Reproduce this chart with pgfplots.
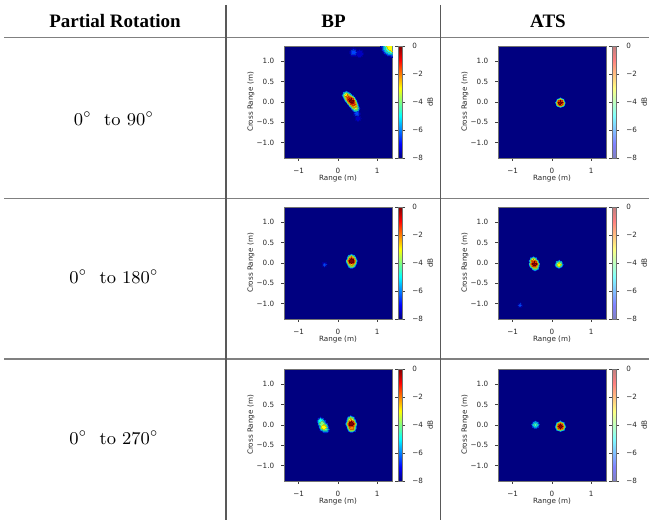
\documentclass[border=0pt]{standalone}
\usepackage{fontspec}
\usepackage{pgfplots}
\usepackage{pgfplotstable}
\pgfplotsset{compat=1.18}
\newfontfamily\hdr{Liberation Serif}
\newfontfamily\dejavu{DejaVu Sans}
\newcommand\pf{\dejavu\fontsize{3.6}{4.3}\selectfont}
\definecolor{navyjet}{RGB}{0,0,128}

\pgfplotstableread{
x y z r
0.21 0.17 -7.5 2.2
0.24 0.135 -7.5 2.35
0.27 0.10 -7.5 2.5
0.305 0.065 -7.5 2.6
0.34 0.03 -7.5 2.7
0.37 -0.015 -7.5 2.6
0.40 -0.06 -7.5 2.5
0.425 -0.105 -7.5 2.35
0.45 -0.15 -7.5 2.2
0.48 -0.28 -7.5 1.8
0.51 -0.40 -7.5 1.5
0.40 1.22 -7.5 2.2
0.55 1.19 -7.5 2.0
1.37 1.37 -7.5 5.5
0.21 0.17 -6.5 1.97
0.24 0.135 -6.5 2.15
0.27 0.10 -6.5 2.3
0.305 0.065 -6.5 2.42
0.34 0.03 -6.5 2.52
0.37 -0.015 -6.5 2.42
0.40 -0.06 -6.5 2.3
0.425 -0.105 -6.5 2.13
0.45 -0.15 -6.5 1.94
0.48 -0.28 -6.5 1.04
0.40 1.22 -6.5 1.27
1.37 1.37 -6.5 4.92
0.21 0.17 -5.5 1.71
0.24 0.135 -5.5 1.92
0.27 0.10 -5.5 2.08
0.305 0.065 -5.5 2.23
0.34 0.03 -5.5 2.34
0.37 -0.015 -5.5 2.23
0.40 -0.06 -5.5 2.08
0.425 -0.105 -5.5 1.88
0.45 -0.15 -5.5 1.64
1.37 1.37 -5.5 4.26
0.21 0.17 -4.5 1.39
0.24 0.135 -4.5 1.66
0.27 0.10 -4.5 1.84
0.305 0.065 -4.5 2.02
0.34 0.03 -4.5 2.14
0.37 -0.015 -4.5 2.02
0.40 -0.06 -4.5 1.84
0.425 -0.105 -4.5 1.58
0.45 -0.15 -4.5 1.27
1.37 1.37 -4.5 3.48
0.24 0.135 -3.5 1.36
0.27 0.10 -3.5 1.55
0.305 0.065 -3.5 1.78
0.34 0.03 -3.5 1.91
0.37 -0.015 -3.5 1.78
0.40 -0.06 -3.5 1.55
0.425 -0.105 -3.5 1.23
0.45 -0.15 -3.5 0.73
0.21 0.17 -3 0.98
1.37 1.37 -3 2.46
0.27 0.10 -2.5 1.2
0.305 0.065 -2.5 1.5
0.34 0.03 -2.5 1.65
0.37 -0.015 -2.5 1.5
0.40 -0.06 -2.5 1.2
0.425 -0.105 -2.5 0.71
0.24 0.135 -2 0.96
0.27 0.10 -1.5 0.69
0.305 0.065 -1.5 1.16
0.34 0.03 -1.5 1.35
0.37 -0.015 -1.5 1.16
0.40 -0.06 -1.5 0.69
0.305 0.065 -0.5 0.67
0.37 -0.015 -0.5 0.67
0.34 0.03 0 0.96
}\bpone

\pgfplotstableread{
x y z r
0.216 -0.016 -7.5 2.6
0.216 -0.016 -6.5 2.43
0.216 -0.016 -5.5 2.25
0.216 -0.016 -4.5 2.06
0.216 -0.016 -3.5 1.84
0.216 -0.016 -2.5 1.59
0.216 -0.016 -1.5 1.3
0.216 -0.016 0 0.92
}\atsone

\pgfplotstableread{
x y z r
0.348 0.05 -7.5 3.0
0.345 0.11 -7.5 2.4
0.35 -0.03 -7.5 2.3
-0.34 -0.04 -7.5 1.2
0.348 0.05 -6.5 2.81
0.345 0.11 -6.5 2.19
0.35 -0.03 -6.5 2.08
-0.34 -0.04 -6.5 0.69
0.348 0.05 -5.5 2.6
0.345 0.11 -5.5 1.96
0.35 -0.03 -5.5 1.84
0.348 0.05 -4.5 2.37
0.345 0.11 -4.5 1.7
0.35 -0.03 -4.5 1.55
0.348 0.05 -3.5 2.12
0.345 0.11 -3.5 1.38
0.35 -0.03 -3.5 1.2
0.348 0.05 -2.5 1.84
0.35 -0.03 -2.5 0.69
0.345 0.11 -2 0.98
0.348 0.05 -1.5 1.5
0.348 0.05 0 1.06
}\bptwo

\pgfplotstableread{
x y z r
-0.45 -0.02 -7.5 2.8
-0.47 0.05 -7.5 2.3
-0.43 -0.09 -7.5 2.2
0.18 -0.033 -7.5 2.2
-0.813 -1.036 -7.5 1.2
-0.45 -0.02 -6.5 2.62
-0.47 0.05 -6.5 2.1
-0.43 -0.09 -6.5 1.99
0.18 -0.033 -6.5 1.97
-0.813 -1.036 -6.5 0.69
-0.45 -0.02 -5.5 2.42
-0.47 0.05 -5.5 1.88
-0.43 -0.09 -5.5 1.76
0.18 -0.033 -5.5 1.71
-0.45 -0.02 -4.5 2.21
-0.47 0.05 -4.5 1.63
-0.43 -0.09 -4.5 1.48
0.18 -0.033 -4.5 1.39
-0.45 -0.02 -3.5 1.98
-0.47 0.05 -3.5 1.33
-0.43 -0.09 -3.5 1.15
0.18 -0.033 -3 0.98
-0.45 -0.02 -2.5 1.71
-0.43 -0.09 -2.5 0.66
-0.47 0.05 -2 0.94
-0.45 -0.02 -1.5 1.4
-0.45 -0.02 0 0.99
}\atstwo

\pgfplotstableread{
x y z r
-0.44 0.10 -7.5 2.0
-0.40 0.03 -7.5 2.4
-0.36 -0.05 -7.5 2.6
-0.32 -0.10 -7.5 2.2
0.34 0.03 -7.5 3.0
0.33 0.12 -7.5 2.4
0.35 -0.07 -7.5 2.5
-0.44 0.10 -6.5 1.63
-0.40 0.03 -6.5 2.08
-0.36 -0.05 -6.5 2.32
-0.32 -0.10 -6.5 1.86
0.34 0.03 -6.5 2.81
0.33 0.12 -6.5 2.17
0.35 -0.07 -6.5 2.28
-0.40 0.03 -5.5 1.7
-0.36 -0.05 -5.5 2.02
-0.32 -0.10 -5.5 1.44
0.34 0.03 -5.5 2.6
0.33 0.12 -5.5 1.92
0.35 -0.07 -5.5 2.04
-0.44 0.10 -5 1.15
-0.36 -0.05 -4.5 1.64
-0.32 -0.10 -4.5 0.83
0.34 0.03 -4.5 2.37
0.33 0.12 -4.5 1.62
0.35 -0.07 -4.5 1.77
-0.40 0.03 -4 1.2
0.34 0.03 -3.5 2.12
0.33 0.12 -3.5 1.25
0.35 -0.07 -3.5 1.44
-0.36 -0.05 -3 1.16
0.34 0.03 -2.5 1.84
0.33 0.12 -2.5 0.72
0.35 -0.07 -2 1.02
0.34 0.03 -1.5 1.5
0.34 0.03 0 1.06
}\bpthree

\pgfplotstableread{
x y z r
-0.42 0.008 -7.5 2.1
0.216 -0.03 -7.5 2.8
-0.42 0.008 -6.5 1.77
0.216 -0.03 -6.5 2.62
-0.42 0.008 -5.5 1.38
0.216 -0.03 -5.5 2.42
-0.42 0.008 -4.5 0.79
0.216 -0.03 -4.5 2.21
0.216 -0.03 -3.5 1.98
0.216 -0.03 -2.5 1.71
0.216 -0.03 -1.5 1.4
0.216 -0.03 0 0.99
}\atsthree

\pgfplotsset{
  colormap={jetpastel}{rgb255(0cm)=(128,128,192) rgb255(1cm)=(128,128,255) rgb255(3cm)=(128,255,255) rgb255(5cm)=(255,255,128) rgb255(7cm)=(255,128,128) rgb255(8cm)=(192,128,128)},
  heat/.style={
    scale only axis, width=54pt, height=56pt,
    at={#1}, anchor=south west,
    xmin=-1.375, xmax=1.375, ymin=-1.375, ymax=1.375,
    axis background/.style={fill=navyjet},
    colormap/jet, point meta min=-8, point meta max=0,
    clip marker paths=true,
    xtick={-1,0,1}, xticklabels={−1,0,1},
    ytick={-1,-0.5,0,0.5,1}, yticklabels={−1.0,−0.5,0.0,0.5,1.0},
    tick pos=left, tick align=outside, major tick length=1.4pt,
    every tick/.style={black!75, line width=0.3pt},
    axis line style={black!55, line width=0.4pt},
    tick label style={font=\pf, text=black!85},
    xlabel={Range (m)}, ylabel={Cross Range (m)},
    label style={font=\pf, text=black!85},
    xlabel style={at={(axis description cs:0.5,-0.179)}, anchor=center},
    ylabel style={at={(axis description cs:-0.306,0.5)}, anchor=center},
    colorbar,
    colorbar shift/.style={xshift=3pt},
    colorbar style={
      scale only axis, width=2.2pt, height=56pt,
      at={(parent axis.north east)}, anchor=north west,
      ytick={-8,-6,-4,-2,0}, yticklabels={−8,−6,−4,−2,0},
      tick label style={font=\pf, text=black!85},
      ylabel={dB}, ylabel style={font=\pf, text=black!85, at={(axis description cs:7.3,0.5)}, anchor=center},
      major tick length=1.4pt, tick align=outside,
      every tick/.style={black!75, line width=0.3pt},
      axis line style={black!55, line width=0.3pt},
    },
  },
  atscb/.style={colorbar style={colormap name=jetpastel}},
  blobs/.style={scatter, only marks, mark=*, point meta=explicit,
    visualization depends on={\thisrow{r} \as \rad},
    scatter/@pre marker code/.append style={/tikz/mark size=\rad},
    mark options={line width=0pt}},
}

\begin{document}
\begin{tikzpicture}
\useasboundingbox (0,0) rectangle (324.5pt,260pt);
% table rules
\draw[black!50, line width=0.75pt] (2pt,241.15pt) -- (324.5pt,241.15pt);
\draw[black!50, line width=0.75pt] (2pt,160.75pt) -- (324.5pt,160.75pt);
\draw[black!50, line width=0.75pt] (2pt,80.5pt) -- (324.5pt,80.5pt);
\draw[black!65, line width=0.7pt] (113pt,257.5pt) -- (113pt,0pt);
\draw[black!65, line width=0.7pt] (220.25pt,257.5pt) -- (220.25pt,0pt);
% header
\node[font=\hdr\bfseries\fontsize{9.5}{11}\selectfont, anchor=base] at (57.5pt,246pt) {Partial Rotation};
\node[font=\hdr\bfseries\fontsize{9.5}{11}\selectfont, anchor=base] at (166.75pt,246pt) {BP};
\node[font=\hdr\bfseries\fontsize{9.5}{11}\selectfont, anchor=base] at (274pt,246pt) {ATS};
% row labels
\node[font=\fontsize{9}{10}\selectfont] at (57pt,200.5pt) {$0^\circ$\ \ to $90^\circ$};
\node[font=\fontsize{9}{10}\selectfont] at (57pt,121.5pt) {$0^\circ$\ \ to $180^\circ$};
\node[font=\fontsize{9}{10}\selectfont] at (57pt,41pt) {$0^\circ$\ \ to $270^\circ$};

\begin{axis}[heat={(142pt,181pt)}]
\addplot[blobs] table[meta=z] {\bpone};
\end{axis}
\begin{axis}[heat={(249pt,181pt)}, atscb]
\addplot[blobs] table[meta=z] {\atsone};
\end{axis}
\begin{axis}[heat={(142pt,100.5pt)}]
\addplot[blobs] table[meta=z] {\bptwo};
\end{axis}
\begin{axis}[heat={(249pt,100.5pt)}, atscb]
\addplot[blobs] table[meta=z] {\atstwo};
\end{axis}
\begin{axis}[heat={(142pt,19.5pt)}]
\addplot[blobs] table[meta=z] {\bpthree};
\end{axis}
\begin{axis}[heat={(249pt,19.5pt)}, atscb]
\addplot[blobs] table[meta=z] {\atsthree};
\end{axis}
\end{tikzpicture}
\end{document}
